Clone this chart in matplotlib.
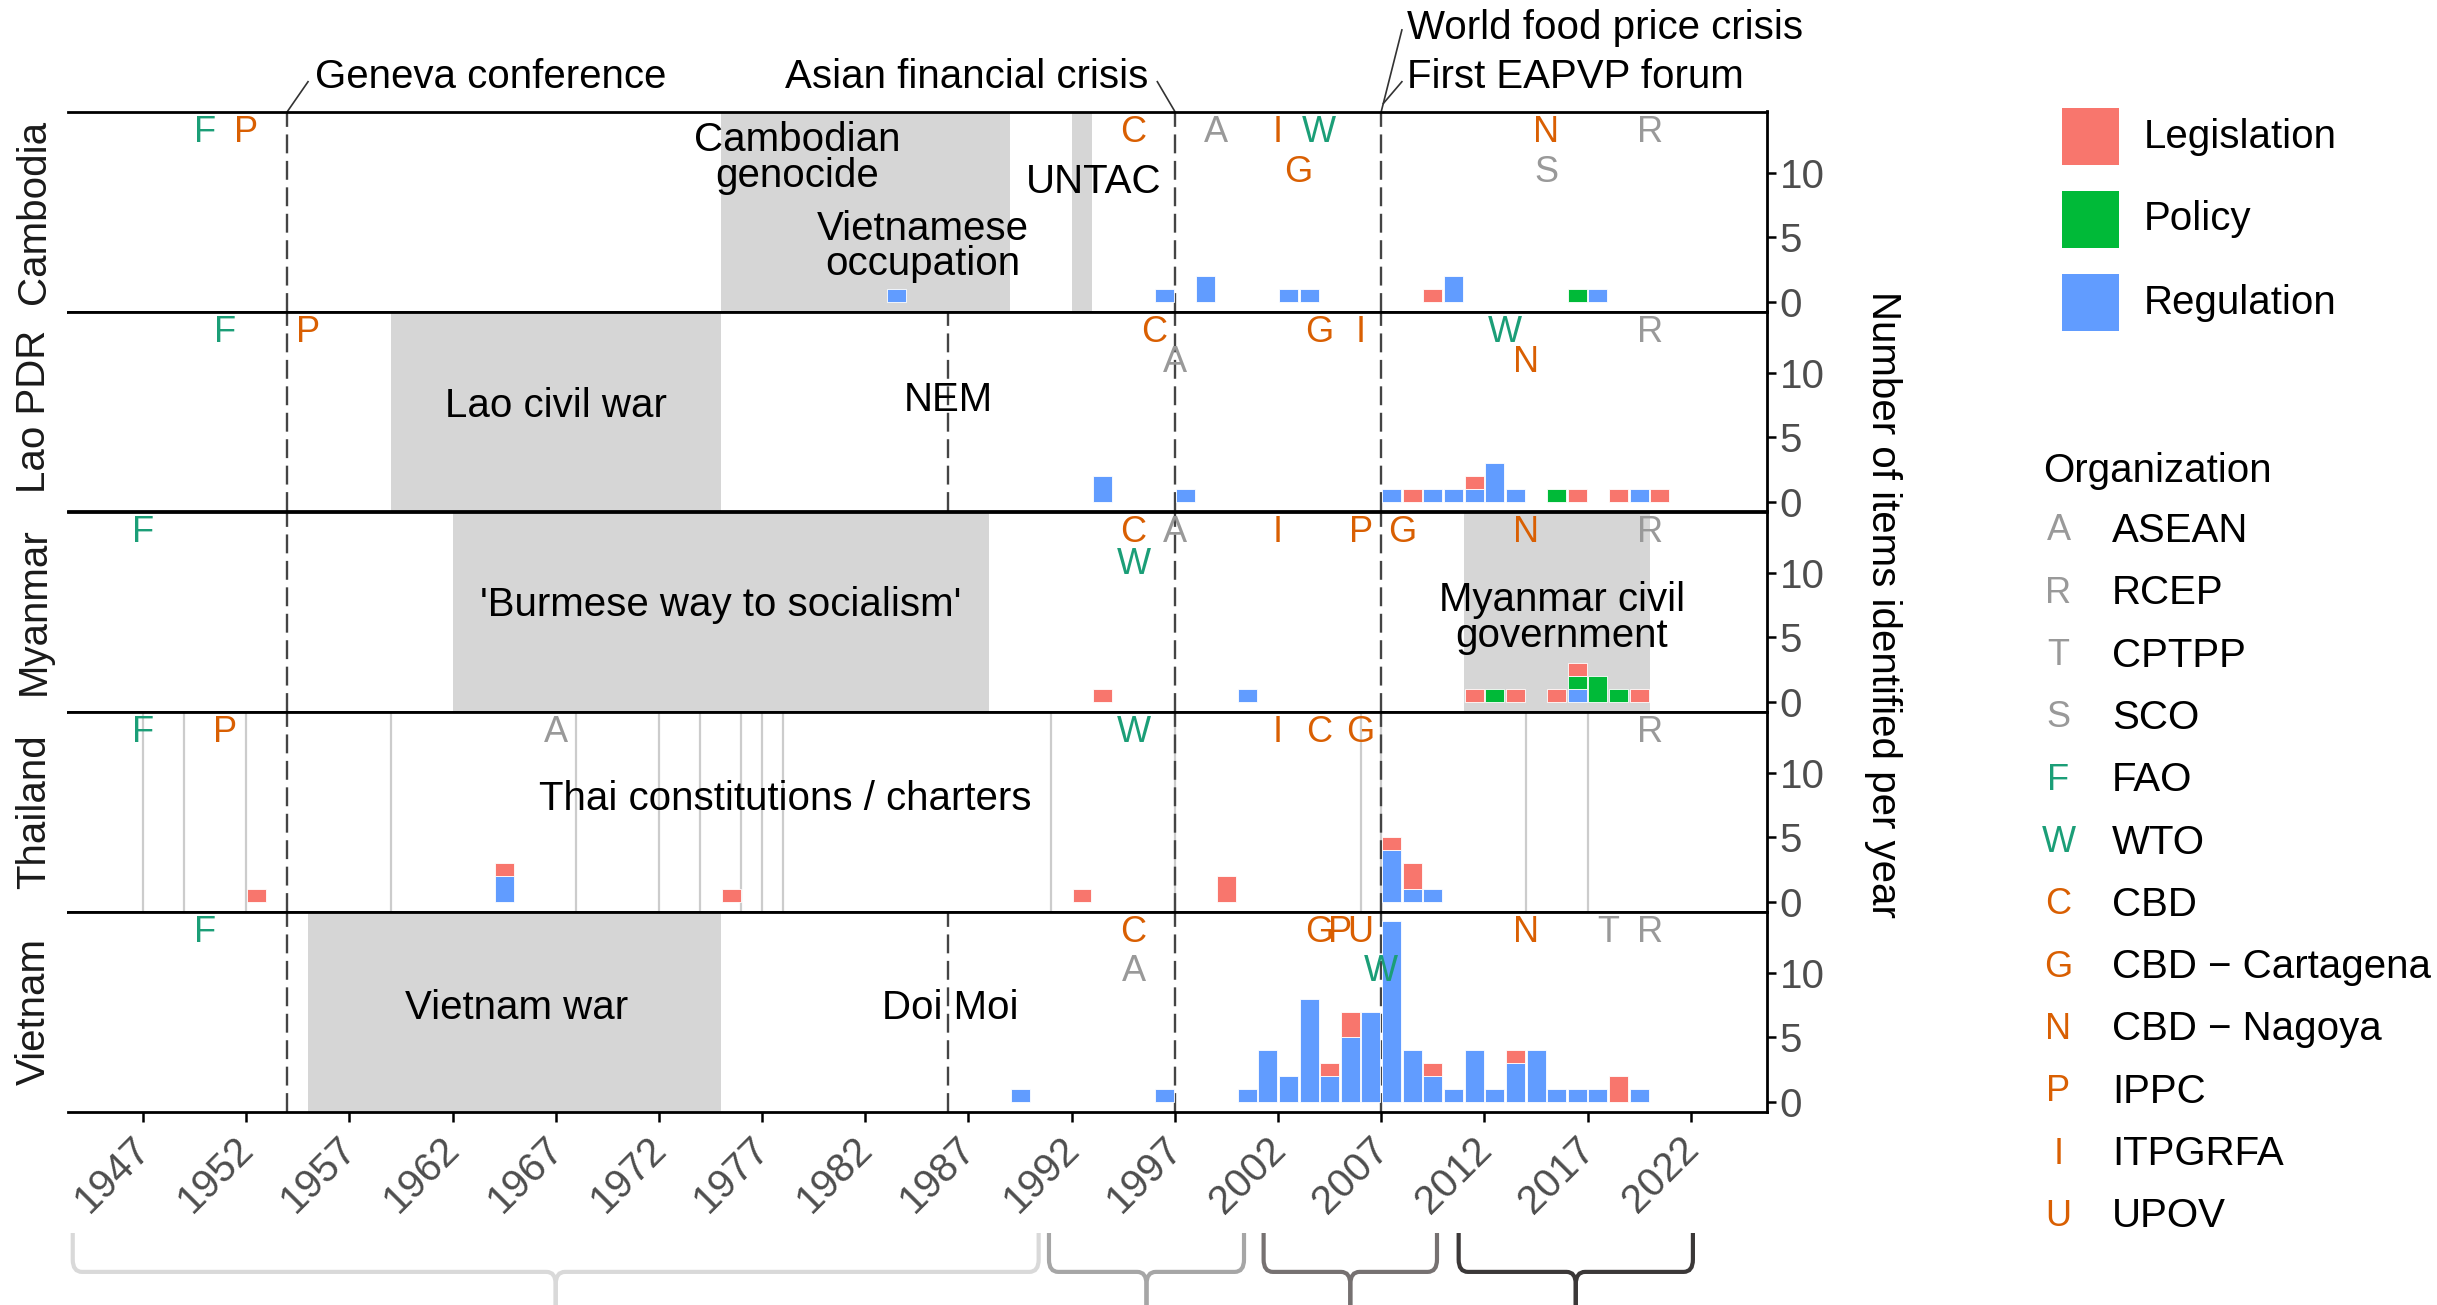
import matplotlib
matplotlib.use('Agg')
import matplotlib.pyplot as plt
import matplotlib.transforms as mtransforms
from matplotlib.patches import Rectangle, PathPatch
from matplotlib.path import Path
import numpy as np

plt.rcParams['font.family'] = ['Liberation Sans', 'DejaVu Sans']

# ---------------- data ----------------
countries = ['Cambodia', 'Lao PDR', 'Myanmar', 'Thailand', 'Vietnam']
types = ['Legislation', 'Policy', 'Regulation']
type_colors = {'Legislation': '#F8766D', 'Policy': '#00BA38', 'Regulation': '#619CFF'}

# items per year  {year: count}
cambodia_legislation = {2009: 1}
cambodia_policy = {2016: 1}
cambodia_regulation = {1983: 1, 1996: 1, 1998: 2, 2002: 1, 2003: 1, 2010: 2, 2017: 1}

lao_legislation = {2008: 1, 2011: 1, 2016: 1, 2018: 1, 2020: 1}
lao_policy = {2015: 1}
lao_regulation = {1993: 2, 1997: 1, 2007: 1, 2009: 1, 2010: 1, 2011: 1, 2012: 3,
                  2013: 1, 2019: 1}

myanmar_legislation = {1993: 1, 2011: 1, 2013: 1, 2015: 1, 2016: 1, 2019: 1}
myanmar_policy = {2012: 1, 2016: 1, 2017: 2, 2018: 1}
myanmar_regulation = {2000: 1, 2016: 1}

thailand_legislation = {1952: 1, 1964: 1, 1975: 1, 1992: 1, 1999: 2, 2007: 1, 2008: 2}
thailand_policy = {}
thailand_regulation = {1964: 2, 2007: 4, 2008: 1, 2009: 1}

vietnam_legislation = {2004: 1, 2005: 2, 2009: 1, 2013: 1, 2018: 2}
vietnam_policy = {}
vietnam_regulation = {1989: 1, 1996: 1, 2000: 1, 2001: 4, 2002: 2, 2003: 8, 2004: 2,
                      2005: 5, 2006: 7, 2007: 14, 2008: 4, 2009: 2, 2010: 1, 2011: 4,
                      2012: 1, 2013: 3, 2014: 4, 2015: 1, 2016: 1, 2017: 1, 2019: 1}

counts = {
    'Cambodia': {'Legislation': cambodia_legislation, 'Policy': cambodia_policy,
                 'Regulation': cambodia_regulation},
    'Lao PDR': {'Legislation': lao_legislation, 'Policy': lao_policy,
                'Regulation': lao_regulation},
    'Myanmar': {'Legislation': myanmar_legislation, 'Policy': myanmar_policy,
                'Regulation': myanmar_regulation},
    'Thailand': {'Legislation': thailand_legislation, 'Policy': thailand_policy,
                 'Regulation': thailand_regulation},
    'Vietnam': {'Legislation': vietnam_legislation, 'Policy': vietnam_policy,
                'Regulation': vietnam_regulation},
}

# shaded historical periods (start, end)
periods = {
    'Cambodia': [(1975, 1989), (1992, 1993)],
    'Lao PDR': [(1959, 1975)],
    'Myanmar': [(1962, 1988), (2011, 2020)],
    'Thailand': [],
    'Vietnam': [(1955, 1975)],
}
thai_constitution_years = [1947, 1949, 1952, 1959, 1968, 1972, 1974, 1976, 1977, 1978,
                           1991, 1997, 2006, 2007, 2014, 2017]
global_event_years = [1954, 1997, 2007]
local_event_years = {'Lao PDR': [1986], 'Vietnam': [1986]}

# period / event labels: (country, text, x-year, y-value)
period_labels = [
    ('Cambodia', 'Cambodian\ngenocide', 1978.7, 11.1),
    ('Cambodia', 'Vietnamese\noccupation', 1984.8, 4.3),
    ('Cambodia', 'UNTAC', 1993.05, 9.3),
    ('Lao PDR', 'Lao civil war', 1967.0, 7.4),
    ('Lao PDR', 'NEM', 1986.0, 7.9),
    ('Myanmar', "'Burmese way to socialism'", 1975.0, 7.5),
    ('Myanmar', 'Myanmar civil\ngovernment', 2015.75, 6.5),
    ('Thailand', 'Thai constitutions / charters', 1978.1, 7.95),
    ('Vietnam', 'Vietnam war', 1965.1, 7.3),
    ('Vietnam', 'Doi Moi', 1986.1, 7.3),
]

orgs = ['ASEAN', 'RCEP', 'CPTPP', 'SCO', 'FAO', 'WTO', 'CBD', 'CBD \u2212 Cartagena',
        'CBD \u2212 Nagoya', 'IPPC', 'ITPGRFA', 'UPOV']
org_letters = ['A', 'R', 'T', 'S', 'F', 'W', 'C', 'G', 'N', 'P', 'I', 'U']
org_colors = ['#999999'] * 4 + ['#1B9E77'] * 2 + ['#D95F02'] * 6

# (letter, accession year, row)
org_events = {
    'Cambodia': [('F', 1950, 1), ('P', 1952, 1), ('C', 1995, 1), ('A', 1999, 1),
                 ('I', 2002, 1), ('G', 2003, 2), ('W', 2004, 1), ('N', 2015, 1),
                 ('S', 2015, 2), ('R', 2020, 1)],
    'Lao PDR': [('F', 1951, 1), ('P', 1955, 1), ('C', 1996, 1), ('A', 1997, 2),
                ('G', 2004, 1), ('I', 2006, 1), ('W', 2013, 1), ('N', 2014, 2),
                ('R', 2020, 1)],
    'Myanmar': [('F', 1947, 1), ('C', 1995, 1), ('W', 1995, 2), ('A', 1997, 1),
                ('I', 2002, 1), ('P', 2006, 1), ('G', 2008, 1), ('N', 2014, 1),
                ('R', 2020, 1)],
    'Thailand': [('F', 1947, 1), ('P', 1951, 1), ('A', 1967, 1), ('W', 1995, 1),
                 ('I', 2002, 1), ('C', 2004, 1), ('G', 2006, 1), ('R', 2020, 1)],
    'Vietnam': [('F', 1950, 1), ('C', 1995, 1), ('A', 1995, 2), ('G', 2004, 1),
                ('P', 2005, 1), ('U', 2006, 1), ('W', 2007, 2), ('N', 2014, 1),
                ('T', 2018, 1), ('R', 2020, 1)],
}
row2_y = {'Cambodia': 10.0, 'Lao PDR': 10.8, 'Myanmar': 10.6, 'Thailand': 10.4,
          'Vietnam': 10.1}
row1_y = 13.1

x_ticks = list(range(1947, 2023, 5))
y_ticks = [0, 5, 10]
y_label = 'Number of items identified per year'

# bottom period brackets (start, end, colour)
brackets = [(1943.6, 1990.4, '#D9D9D9'), (1990.9, 2000.35, '#A6A6A6'),
            (2001.3, 2009.7, '#767171'), (2010.75, 2022.1, '#3B3838')]

# ---------------- figure ----------------
W, H, DPI = 2437, 1305, 200
fig = plt.figure(figsize=(W / DPI, H / DPI), dpi=DPI)
FS = 14.5
LFS = 13

LEFT, RIGHT = 67.8, 1767.0
TOP0, PH = 111.5, 200.0
XLIM = (1943.36, 2025.69)
YLIM = (-0.7, 14.7)

letter_color = dict(zip(org_letters, org_colors))
all_years = np.arange(1940, 2026)

axes = []
for i, c in enumerate(countries):
    top = TOP0 + i * PH
    ax = fig.add_axes([LEFT / W, 1 - (top + PH) / H, (RIGHT - LEFT) / W, PH / H])
    axes.append(ax)
    ax.set_xlim(*XLIM)
    ax.set_ylim(*YLIM)
    for (a, b) in periods[c]:
        ax.axvspan(a, b, color='#D6D6D6', lw=0, zorder=0)
    if c == 'Thailand':
        for yr in thai_constitution_years:
            ax.axvline(yr, color='#CCCCCC', lw=0.8, zorder=0.5)
    for yr in global_event_years + local_event_years.get(c, []):
        ax.axvline(yr, color='#444444', lw=0.85, ls=(0, (8, 3.2)), zorder=1)
    bottom = np.zeros(len(all_years))
    for t in ['Regulation', 'Policy', 'Legislation']:
        d = counts[c][t]
        vals = np.array([d.get(int(y), 0) for y in all_years], dtype=float)
        m = vals > 0
        if m.any():
            ax.bar(all_years[m] + 0.5, vals[m], width=0.92, bottom=bottom[m],
                   color=type_colors[t], edgecolor='white', linewidth=0.3, zorder=2)
        bottom += vals
    for (cc, txt, x, y) in period_labels:
        if cc == c:
            ax.text(x, y, txt, ha='center', va='center', fontsize=FS, color='black',
                    linespacing=0.92, zorder=4)
    for (L, yr, row) in org_events[c]:
        yy = row1_y if row == 1 else row2_y[c]
        ax.text(yr, yy, L, ha='center', va='center', fontsize=LFS,
                color=letter_color[L], zorder=5)
    # axes styling
    ax.spines['left'].set_visible(False)
    for s in ['top', 'bottom', 'right']:
        ax.spines[s].set_linewidth(1.0)
        ax.spines[s].set_color('black')
    ax.yaxis.tick_right()
    ax.set_yticks(y_ticks)
    ax.set_yticklabels([str(v) for v in y_ticks])
    ax.tick_params(axis='y', direction='out', length=3.1, width=0.9, color='black',
                   labelsize=FS, labelcolor='#4D4D4D', pad=1.5)
    ax.set_xticks(x_ticks)
    if i < len(countries) - 1:
        ax.tick_params(axis='x', length=0, labelbottom=False)
    else:
        ax.tick_params(axis='x', direction='out', length=3.6, width=0.9, color='black',
                       labelsize=FS, labelcolor='#4D4D4D', pad=3)
        ax.set_xticklabels([str(v) for v in x_ticks], rotation=45, ha='right',
                           rotation_mode='anchor')
        off = mtransforms.ScaledTranslation(-12 / DPI, 0, fig.dpi_scale_trans)
        for lab in ax.get_xticklabels():
            lab.set_transform(lab.get_transform() + off)
    # strip label on the left
    fig.text(34 / W, 1 - (top + PH / 2) / H, c, rotation=90, ha='center', va='center',
             fontsize=FS, color='#1A1A1A')

# top annotations
ax0 = axes[0]
tr = mtransforms.blended_transform_factory(ax0.transData, ax0.transAxes)
lc = '#333333'
ax0.plot([1954, 1955.0], [1.0, 1.149], transform=tr, color=lc, lw=0.6, clip_on=False)
ax0.text(1955.35, 1.174, 'Geneva conference', transform=tr, ha='left', va='center',
         fontsize=FS)
ax0.plot([1997, 1996.15], [1.0, 1.149], transform=tr, color=lc, lw=0.6, clip_on=False)
ax0.text(1995.7, 1.174, 'Asian financial crisis', transform=tr, ha='right', va='center',
         fontsize=FS)
ax0.plot([2007, 2008.0], [1.0, 1.408], transform=tr, color=lc, lw=0.6, clip_on=False)
ax0.plot([2007.1, 2008.0], [1.04, 1.149], transform=tr, color=lc, lw=0.6, clip_on=False)
ax0.text(2008.25, 1.418, 'World food price crisis', transform=tr, ha='left',
         va='center', fontsize=FS)
ax0.text(2008.25, 1.174, 'First EAPVP forum', transform=tr, ha='left', va='center',
         fontsize=FS)

# y-axis title
fig.text(1883 / W, 1 - 604 / H, y_label, rotation=270, ha='center', va='center',
         fontsize=FS, color='black')

# bottom brackets
axb = fig.add_axes([LEFT / W, 0, (RIGHT - LEFT) / W, 77 / H])
axb.set_xlim(*XLIM)
axb.set_ylim(0, 1)
axb.axis('off')
top_b, mid_b, bot_b = 0.935, 0.43, -0.05
rx, ry = 0.45, 0.16
for (x0, x1, col) in brackets:
    xc = (x0 + x1) / 2
    for xe, sgn in [(x0, 1), (x1, -1)]:
        verts = [(xe, top_b), (xe, mid_b + ry), (xe, mid_b), (xe + sgn * rx, mid_b),
                 (xc - sgn * rx, mid_b), (xc, mid_b), (xc, mid_b - ry), (xc, bot_b)]
        codes = [Path.MOVETO, Path.LINETO, Path.CURVE3, Path.CURVE3, Path.LINETO,
                 Path.CURVE3, Path.CURVE3, Path.LINETO]
        axb.add_patch(PathPatch(Path(verts, codes), fill=False, edgecolor=col, lw=1.5,
                                capstyle='butt', clip_on=False))

# legend: item type
key_w = 57
for j, t in enumerate(types):
    cy = 136.5 + j * 83
    fig.patches.append(Rectangle(((2061.5) / W, 1 - (cy + key_w / 2) / H), key_w / W,
                                 key_w / H, transform=fig.transFigure,
                                 facecolor=type_colors[t], edgecolor='none'))
    fig.text(2143.5 / W, 1 - cy / H, t, ha='left', va='center', fontsize=FS,
             color='black')

# legend: organization
fig.text(2043 / W, 1 - 471 / H, 'Organization', ha='left', va='center', fontsize=FS,
         color='black')
for j, (o, L, col) in enumerate(zip(orgs, org_letters, org_colors)):
    cy = 531 + j * 62.3
    fig.text(2058.5 / W, 1 - cy / H, L, ha='center', va='center', fontsize=LFS,
             color=col)
    fig.text(2112 / W, 1 - cy / H, o, ha='left', va='center', fontsize=FS,
             color='black')

fig.savefig('out.png', dpi=DPI, facecolor='white')
